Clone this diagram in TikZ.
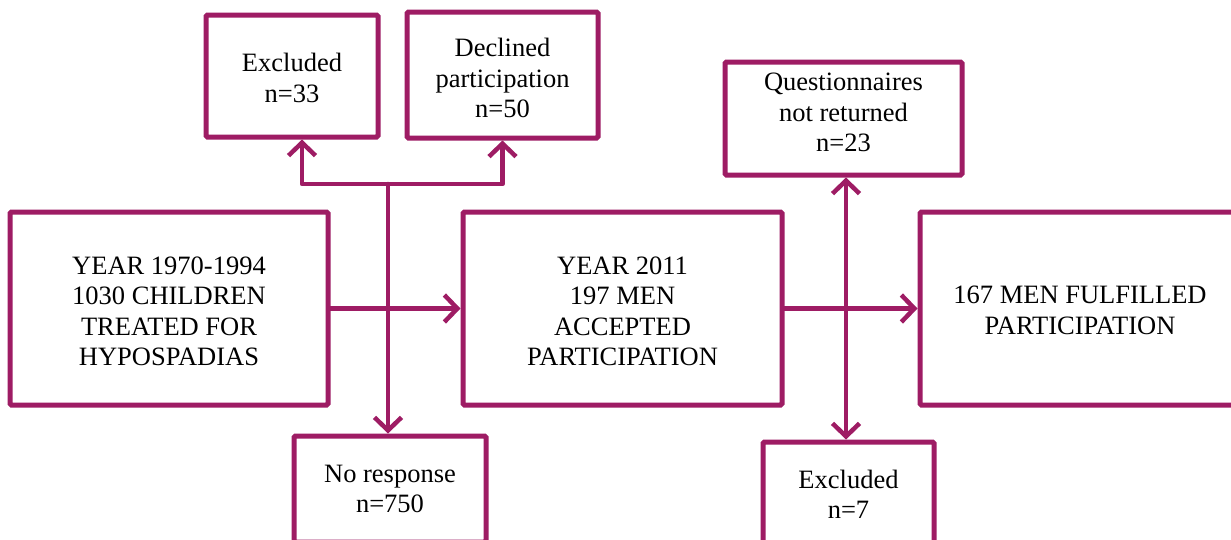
\documentclass[tikz,border=0pt]{standalone}
\usepackage{fontspec}
\setmainfont{Liberation Serif}
\usetikzlibrary{arrows.meta}
\definecolor{plum}{RGB}{158,28,100}
\begin{document}
\begin{tikzpicture}[x=1pt,y=-1pt,
  box/.style={draw=plum,line width=5pt,rounded corners=1.5pt,fill=white,inner sep=0pt},
  lbl/.style={align=center,inner sep=0pt,font=\fontsize{26.5}{30.5}\selectfont},
  arr/.style={draw=plum,line width=4.5pt,line cap=round,line join=round,
    -{Straight Barb[length=13pt,width=27pt,line width=4.5pt]}},
  darr/.style={arr,{Straight Barb[length=13pt,width=27pt,line width=4.5pt]}-{Straight Barb[length=13pt,width=27pt,line width=4.5pt]}}]
\useasboundingbox (0,0) rectangle (1231,539);
\clip (0,0) rectangle (1231,539);
\fill[white] (0,0) rectangle (1231,539);
\node[box,minimum width=318pt,minimum height=193pt,
  label={[lbl,yshift=-3pt]center:{YEAR 1970-1994\\1030 CHILDREN\\TREATED FOR\\HYPOSPADIAS}}]
  (left) at (169,308.5) {};
\node[box,minimum width=319pt,minimum height=193pt,
  label={[lbl,yshift=-3pt]center:{YEAR 2011\\197 MEN\\ACCEPTED\\PARTICIPATION}}]
  (mid) at (622.5,308.5) {};
\node[box,minimum width=320pt,minimum height=193pt,
  label={[lbl,yshift=-2pt]center:{167 MEN FULFILLED\\PARTICIPATION}}]
  (right) at (1080,308.5) {};
\node[box,minimum width=172pt,minimum height=122pt,
  label={[lbl,yshift=-2pt]center:{Excluded\\n=33}}]
  (excl33) at (292,76) {};
\node[box,minimum width=191pt,minimum height=126pt,
  label={[lbl,yshift=-3pt]center:{Declined\\participation\\n=50}}]
  (declined) at (502.5,75) {};
\node[box,minimum width=237pt,minimum height=113pt,
  label={[lbl,yshift=6pt]center:{Questionnaires\\not returned\\n=23}}]
  (quest) at (843.5,118.5) {};
\node[box,minimum width=192pt,minimum height=106pt,
  label={[lbl]center:{No response\\n=750}}]
  (noresp) at (390,489) {};
\node[box,minimum width=171pt,minimum height=105pt,
  label={[lbl]center:{Excluded\\n=7}}]
  (excl7) at (848.5,494.5) {};
\coordinate (j) at (388,184);
\draw[arr] (left.east) -- (mid.west);
\draw[arr] (mid.east) -- (right.west);
\draw[arr] (j) -- (j |- noresp.north);
\draw[arr] (j) -| ([xshift=10pt]excl33.south);
\draw[arr] (j) -| (declined.south);
\draw[darr] ([xshift=2.5pt]quest.south) -- ([xshift=-2.5pt]excl7.north);
\end{tikzpicture}
\end{document}
